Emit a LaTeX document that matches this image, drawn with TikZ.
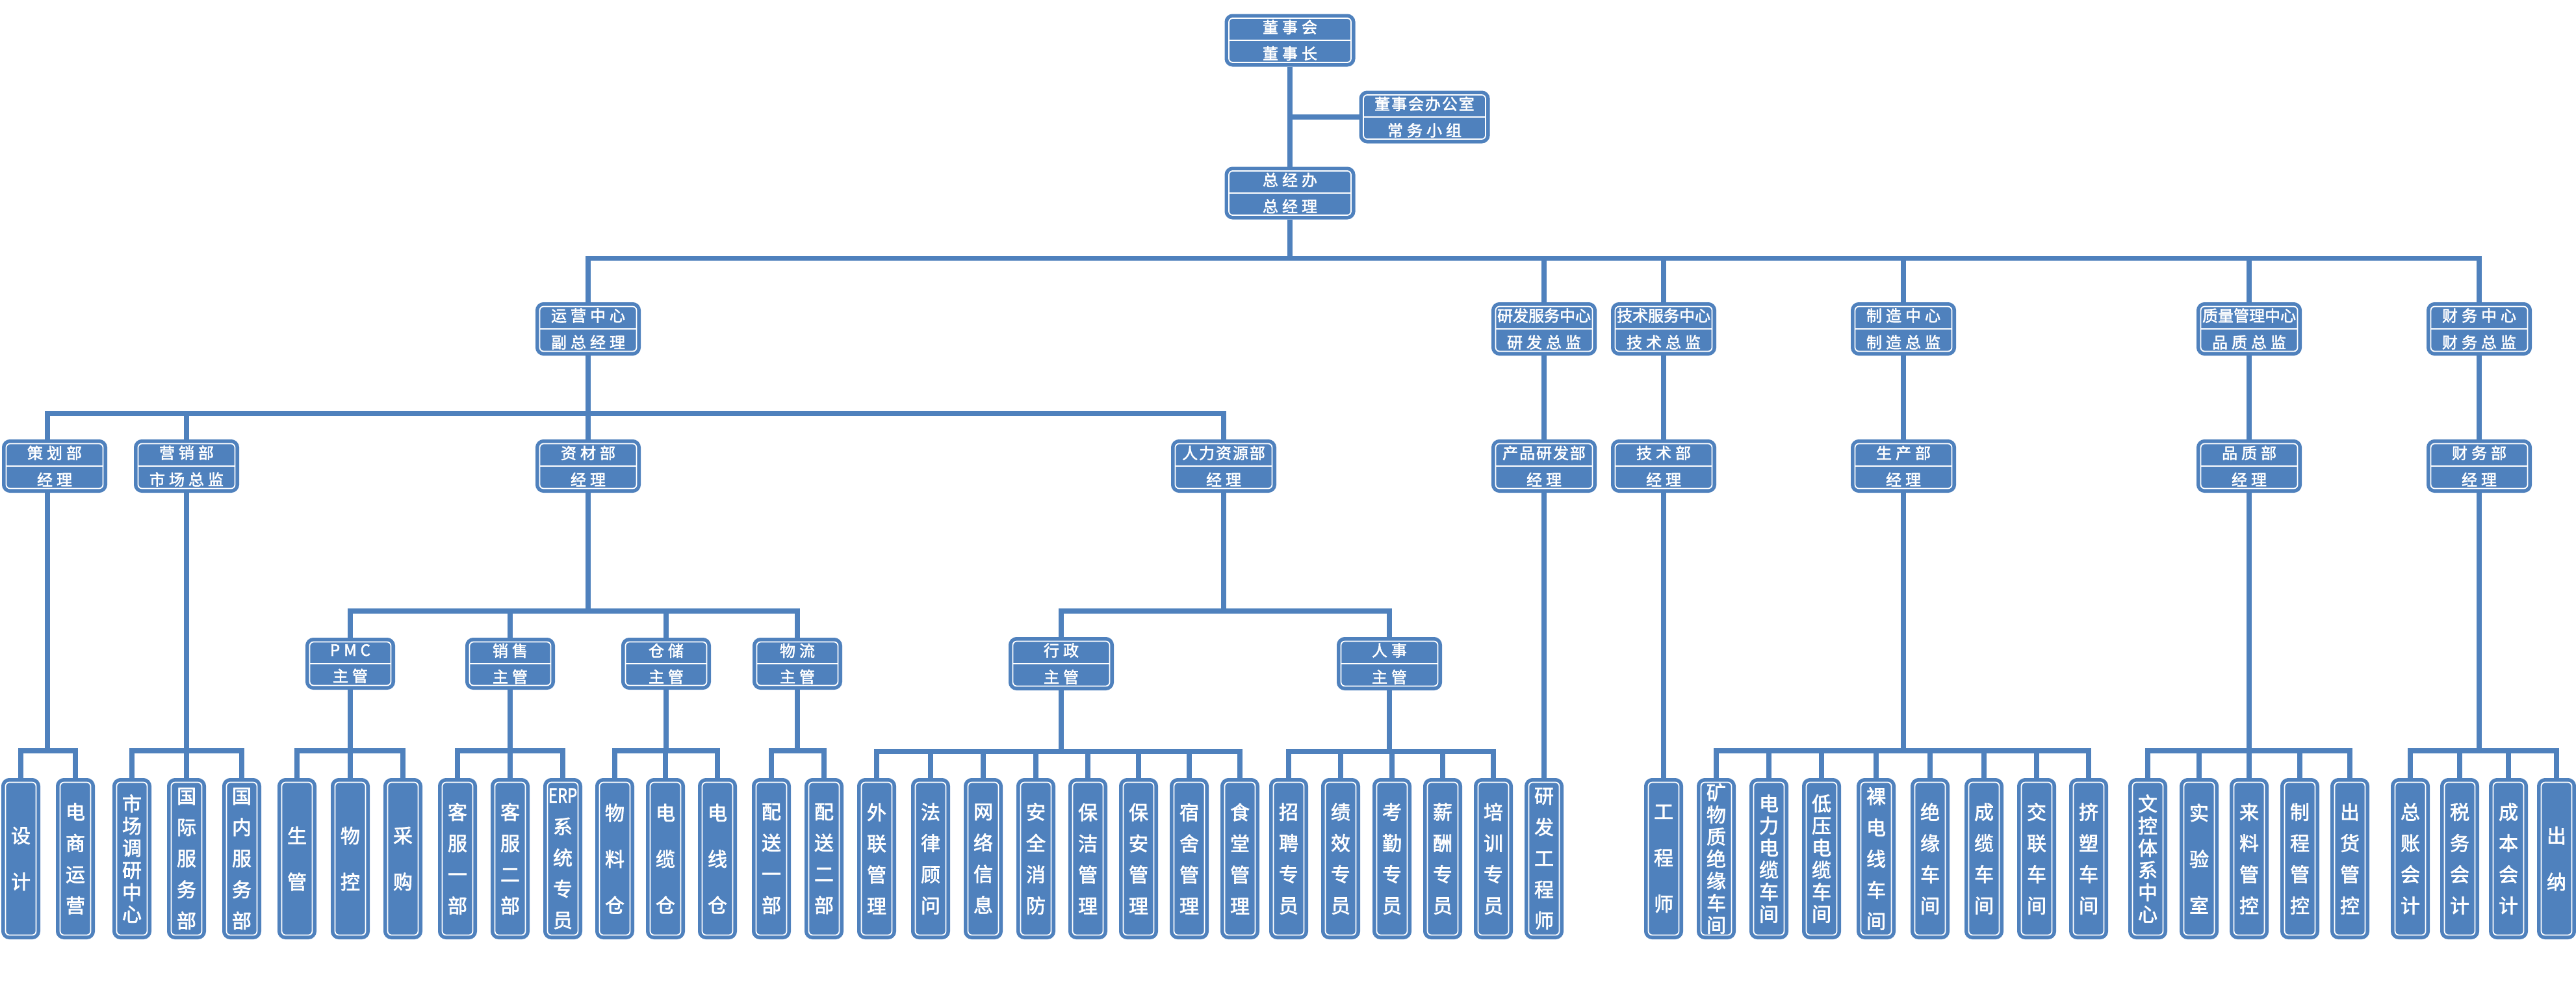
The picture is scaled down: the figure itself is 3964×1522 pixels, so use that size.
\documentclass[tikz,border=0pt]{standalone}
\usepackage{fontspec}
\setmainfont{Noto Sans CJK SC}[FakeBold=2.2]
\newfontfamily\hdfont{Noto Sans CJK SC}[LetterSpace=25, FakeBold=2.2]
\newfontfamily\hdsnug{Noto Sans CJK SC}[LetterSpace=8, FakeBold=2.2]
\newfontfamily\hdtight{Noto Sans CJK SC}[FakeBold=2.2]
\definecolor{orgblue}{RGB}{79,129,189}

\tikzset{
  unit/.style={rectangle, rounded corners=3pt, fill=orgblue, draw=orgblue,
    line width=2.8pt, double=white, double distance=0.9pt,
    outer sep=3.25pt, inner sep=0pt, text=white, align=center},
  head/.style={unit, minimum width=94pt, minimum height=34pt,
    font=\hdfont\fontsize{12pt}{20.25pt}\selectfont},
  mid/.style={unit, minimum width=74.5pt, minimum height=34.5pt,
    font=\hdfont\fontsize{12pt}{20.5pt}\selectfont},
  sub/.style={unit, minimum width=62.5pt, minimum height=33.5pt,
    font=\hdfont\fontsize{12pt}{20pt}\selectfont},
  leaf/.style={unit, minimum width=23.5pt, minimum height=117.5pt},
  pitchA/.style={leaf, font=\fontsize{15pt}{35.5pt}\selectfont},
  pitchB/.style={leaf, font=\fontsize{15pt}{24pt}\selectfont},
  pitchC/.style={leaf, font=\fontsize{15pt}{17pt}\selectfont},
  link/.style={draw=orgblue, line width=3.8pt},
  divider/.style={draw=white, line width=0.9pt}
}

\begin{document}
\begin{tikzpicture}[x=0.5pt, y=-0.5pt]
  \useasboundingbox (0,0) rectangle (3964,1522);

  % board and general manager
  \node[head] (dongshihui)  at (1985,62)  {董事会\\董事长};
  \node[head] (banshi)      at (2192,180) {{\hdsnug 董事会办公室}\\常务小组};
  \node[head] (zongjingban) at (1985,297) {总经办\\总经理};

  % centres
  \node[mid] (yunying)  at (905,506)  {运营中心\\副总经理};
  \node[mid] (yanfa)    at (2376,506) {{\hdtight 研发服务中心}\\研发总监};
  \node[mid] (jishu)    at (2560,506) {{\hdtight 技术服务中心}\\技术总监};
  \node[mid] (zhizao)   at (2929,506) {制造中心\\制造总监};
  \node[mid] (zhiliang) at (3461,506) {{\hdtight 质量管理中心}\\品质总监};
  \node[mid] (caiwu)    at (3815,506) {财务中心\\财务总监};

  % departments
  \node[mid] (cehua)     at (84,717)   {策划部\\经理};
  \node[mid] (yingxiao)  at (287,717)  {营销部\\市场总监};
  \node[mid] (zicai)     at (905,717)  {资材部\\经理};
  \node[mid] (renli)     at (1883,717) {{\hdsnug 人力资源部}\\经理};
  \node[mid] (chanpin)   at (2376,717) {{\hdsnug 产品研发部}\\经理};
  \node[mid] (jishubu)   at (2560,717) {技术部\\经理};
  \node[mid] (shengchan) at (2929,717) {生产部\\经理};
  \node[mid] (pinzhi)    at (3461,717) {品质部\\经理};
  \node[mid] (caiwubu)   at (3815,717) {财务部\\经理};

  % supervisors
  \node[sub] (pmc)       at (539,1021)  {PMC\\主管};
  \node[sub] (xiaoshou)  at (785,1021)  {销售\\主管};
  \node[sub] (cangchu)   at (1025,1021) {仓储\\主管};
  \node[sub] (wuliu)     at (1227,1021) {物流\\主管};
  \node[mid] (xingzheng) at (1633,1021) {行政\\主管};
  \node[mid] (renshi)    at (2138,1021) {人事\\主管};

  % posts
  \node[pitchA] (sheji)      at (32,1321)   {设\\计};
  \node[pitchB] (dianshang)  at (116,1321)  {电\\商\\运\\营};
  \node[pitchC] (shichang)   at (203,1321)  {市\\场\\调\\研\\中\\心};
  \node[pitchB] (guoji)      at (287,1321)  {国\\际\\服\\务\\部};
  \node[pitchB] (guonei)     at (372,1321)  {国\\内\\服\\务\\部};
  \node[pitchA] (shengguan)  at (457,1321)  {生\\管};
  \node[pitchA] (wukong)     at (539,1321)  {物\\控};
  \node[pitchA] (caigou)     at (620,1321)  {采\\购};
  \node[pitchB] (kefuyi)     at (704,1321)  {客\\服\\一\\部};
  \node[pitchB] (kefuer)     at (785,1321)  {客\\服\\二\\部};
  \node[pitchB] (erp)        at (866,1321)  {\scalebox{0.8}[1]{ERP}\\系\\统\\专\\员};
  \node[pitchA] (wuliaocang) at (946,1321)  {物\\料\\仓};
  \node[pitchA] (dianlan)    at (1024,1321) {电\\缆\\仓};
  \node[pitchA] (dianxian)   at (1104,1321) {电\\线\\仓};
  \node[pitchB] (peisongyi)  at (1187,1321) {配\\送\\一\\部};
  \node[pitchB] (peisonger)  at (1268,1321) {配\\送\\二\\部};
  \node[pitchB] (wailian)    at (1349,1321) {外\\联\\管\\理};
  \node[pitchB] (falv)       at (1432,1321) {法\\律\\顾\\问};
  \node[pitchB] (wangluo)    at (1513,1321) {网\\络\\信\\息};
  \node[pitchB] (anquan)     at (1594,1321) {安\\全\\消\\防};
  \node[pitchB] (baojie)     at (1674,1321) {保\\洁\\管\\理};
  \node[pitchB] (baoan)      at (1752,1321) {保\\安\\管\\理};
  \node[pitchB] (sushe)      at (1830,1321) {宿\\舍\\管\\理};
  \node[pitchB] (shitang)    at (1908,1321) {食\\堂\\管\\理};
  \node[pitchB] (zhaopin)    at (1983,1321) {招\\聘\\专\\员};
  \node[pitchB] (jixiao)     at (2063,1321) {绩\\效\\专\\员};
  \node[pitchB] (kaoqin)     at (2142,1321) {考\\勤\\专\\员};
  \node[pitchB] (xinchou)    at (2220,1321) {薪\\酬\\专\\员};
  \node[pitchB] (peixun)     at (2298,1321) {培\\训\\专\\员};
  \node[pitchB] (yfgcs)      at (2376,1321) {研\\发\\工\\程\\师};
  \node[pitchA] (gcs)        at (2560,1321) {工\\程\\师};
  \node[pitchC] (kuangwu)    at (2641,1321) {矿\\物\\质\\绝\\缘\\车\\间};
  \node[pitchC] (dianli)     at (2722,1321) {电\\力\\电\\缆\\车\\间};
  \node[pitchC] (diya)       at (2803,1321) {低\\压\\电\\缆\\车\\间};
  \node[pitchB] (luodian)    at (2887,1321) {裸\\电\\线\\车\\间};
  \node[pitchB] (jueyuan)    at (2970,1321) {绝\\缘\\车\\间};
  \node[pitchB] (chenglan)   at (3053,1321) {成\\缆\\车\\间};
  \node[pitchB] (jiaolian)   at (3134,1321) {交\\联\\车\\间};
  \node[pitchB] (jisu)       at (3214,1321) {挤\\塑\\车\\间};
  \node[pitchC] (wenkong)    at (3305,1321) {文\\控\\体\\系\\中\\心};
  \node[pitchA] (shiyan)     at (3384,1321) {实\\验\\室};
  \node[pitchB] (lailiao)    at (3461,1321) {来\\料\\管\\控};
  \node[pitchB] (zhicheng)   at (3539,1321) {制\\程\\管\\控};
  \node[pitchB] (chuhuo)     at (3616,1321) {出\\货\\管\\控};
  \node[pitchB] (zongzhang)  at (3709,1321) {总\\账\\会\\计};
  \node[pitchB] (shuiwu)     at (3785,1321) {税\\务\\会\\计};
  \node[pitchB] (chengben)   at (3860,1321) {成\\本\\会\\计};
  \node[pitchA] (chuna)      at (3934,1321) {出\\纳};

  % dividers of the two-line boxes
  \draw[divider] ([xshift=3.25pt]dongshihui.west) -- ([xshift=-3.25pt]dongshihui.east);
  \draw[divider] ([xshift=3.25pt]banshi.west) -- ([xshift=-3.25pt]banshi.east);
  \draw[divider] ([xshift=3.25pt]zongjingban.west) -- ([xshift=-3.25pt]zongjingban.east);
  \draw[divider] ([xshift=3.25pt]yunying.west) -- ([xshift=-3.25pt]yunying.east);
  \draw[divider] ([xshift=3.25pt]yanfa.west) -- ([xshift=-3.25pt]yanfa.east);
  \draw[divider] ([xshift=3.25pt]jishu.west) -- ([xshift=-3.25pt]jishu.east);
  \draw[divider] ([xshift=3.25pt]zhizao.west) -- ([xshift=-3.25pt]zhizao.east);
  \draw[divider] ([xshift=3.25pt]zhiliang.west) -- ([xshift=-3.25pt]zhiliang.east);
  \draw[divider] ([xshift=3.25pt]caiwu.west) -- ([xshift=-3.25pt]caiwu.east);
  \draw[divider] ([xshift=3.25pt]cehua.west) -- ([xshift=-3.25pt]cehua.east);
  \draw[divider] ([xshift=3.25pt]yingxiao.west) -- ([xshift=-3.25pt]yingxiao.east);
  \draw[divider] ([xshift=3.25pt]zicai.west) -- ([xshift=-3.25pt]zicai.east);
  \draw[divider] ([xshift=3.25pt]renli.west) -- ([xshift=-3.25pt]renli.east);
  \draw[divider] ([xshift=3.25pt]chanpin.west) -- ([xshift=-3.25pt]chanpin.east);
  \draw[divider] ([xshift=3.25pt]jishubu.west) -- ([xshift=-3.25pt]jishubu.east);
  \draw[divider] ([xshift=3.25pt]shengchan.west) -- ([xshift=-3.25pt]shengchan.east);
  \draw[divider] ([xshift=3.25pt]pinzhi.west) -- ([xshift=-3.25pt]pinzhi.east);
  \draw[divider] ([xshift=3.25pt]caiwubu.west) -- ([xshift=-3.25pt]caiwubu.east);
  \draw[divider] ([xshift=3.25pt]pmc.west) -- ([xshift=-3.25pt]pmc.east);
  \draw[divider] ([xshift=3.25pt]xiaoshou.west) -- ([xshift=-3.25pt]xiaoshou.east);
  \draw[divider] ([xshift=3.25pt]cangchu.west) -- ([xshift=-3.25pt]cangchu.east);
  \draw[divider] ([xshift=3.25pt]wuliu.west) -- ([xshift=-3.25pt]wuliu.east);
  \draw[divider] ([xshift=3.25pt]xingzheng.west) -- ([xshift=-3.25pt]xingzheng.east);
  \draw[divider] ([xshift=3.25pt]renshi.west) -- ([xshift=-3.25pt]renshi.east);

  % top
  \draw[link] (dongshihui.south) -- (zongjingban.north);
  \draw[link] (banshi.west) -- (banshi.west -| dongshihui.south);

  % general manager to centres
  \draw[link] (zongjingban.south) -- ++(0,60) -| (yunying.north)
              (zongjingban.south) -- ++(0,60) -| (yanfa.north)
              (zongjingban.south) -- ++(0,60) -| (jishu.north)
              (zongjingban.south) -- ++(0,60) -| (zhizao.north)
              (zongjingban.south) -- ++(0,60) -| (zhiliang.north)
              (zongjingban.south) -- ++(0,60) -| (caiwu.north);

  % centres to departments
  \draw[link] (yunying.south) -- ++(0,89) -| ([xshift=-5.5pt]cehua.north)
              (yunying.south) -- ++(0,89) -| (yingxiao.north)
              (yunying.south) -- ++(0,89) -| (zicai.north)
              (yunying.south) -- ++(0,89) -| (renli.north);
  \draw[link] (yanfa.south) -- (chanpin.north);
  \draw[link] (jishu.south) -- (jishubu.north);
  \draw[link] (zhizao.south) -- (shengchan.north);
  \draw[link] (zhiliang.south) -- (pinzhi.north);
  \draw[link] (caiwu.south) -- (caiwubu.north);

  % departments to supervisors
  \draw[link] (zicai.south) -- ++(0,182) -| (pmc.north)
              (zicai.south) -- ++(0,182) -| (xiaoshou.north)
              (zicai.south) -- ++(0,182) -| (cangchu.north)
              (zicai.south) -- ++(0,182) -| (wuliu.north);
  \draw[link] (renli.south) -- ++(0,182) -| (xingzheng.north)
              (renli.south) -- ++(0,182) -| (renshi.north);

  % posts
  \draw[link] ([xshift=-5.5pt]cehua.south) -- ++(0,397) -| (sheji.north)
              ([xshift=-5.5pt]cehua.south) -- ++(0,397) -| (dianshang.north);
  \draw[link] (yingxiao.south) -- ++(0,397) -| (shichang.north)
              (yingxiao.south) -- ++(0,397) -| (guoji.north)
              (yingxiao.south) -- ++(0,397) -| (guonei.north);
  \draw[link] (pmc.south) -- ++(0,94) -| (shengguan.north)
              (pmc.south) -- ++(0,94) -| (wukong.north)
              (pmc.south) -- ++(0,94) -| (caigou.north);
  \draw[link] (xiaoshou.south) -- ++(0,94) -| (kefuyi.north)
              (xiaoshou.south) -- ++(0,94) -| (kefuer.north)
              (xiaoshou.south) -- ++(0,94) -| (erp.north);
  \draw[link] (cangchu.south) -- ++(0,94) -| (wuliaocang.north)
              (cangchu.south) -- ++(0,94) -| (dianlan.north)
              (cangchu.south) -- ++(0,94) -| (dianxian.north);
  \draw[link] (wuliu.south) -- ++(0,94) -| (peisongyi.north)
              (wuliu.south) -- ++(0,94) -| (peisonger.north);
  \draw[link] (xingzheng.south) -- ++(0,94) -| (wailian.north)
              (xingzheng.south) -- ++(0,94) -| (falv.north)
              (xingzheng.south) -- ++(0,94) -| (wangluo.north)
              (xingzheng.south) -- ++(0,94) -| (anquan.north)
              (xingzheng.south) -- ++(0,94) -| (baojie.north)
              (xingzheng.south) -- ++(0,94) -| (baoan.north)
              (xingzheng.south) -- ++(0,94) -| (sushe.north)
              (xingzheng.south) -- ++(0,94) -| (shitang.north);
  \draw[link] (renshi.south) -- ++(0,94) -| (zhaopin.north)
              (renshi.south) -- ++(0,94) -| (jixiao.north)
              (renshi.south) -- ++(0,94) -| (kaoqin.north)
              (renshi.south) -- ++(0,94) -| (xinchou.north)
              (renshi.south) -- ++(0,94) -| (peixun.north);
  \draw[link] (chanpin.south) -- (yfgcs.north);
  \draw[link] (jishubu.south) -- (gcs.north);
  \draw[link] (shengchan.south) -- ++(0,397) -| (kuangwu.north)
              (shengchan.south) -- ++(0,397) -| (dianli.north)
              (shengchan.south) -- ++(0,397) -| (diya.north)
              (shengchan.south) -- ++(0,397) -| (luodian.north)
              (shengchan.south) -- ++(0,397) -| (jueyuan.north)
              (shengchan.south) -- ++(0,397) -| (chenglan.north)
              (shengchan.south) -- ++(0,397) -| (jiaolian.north)
              (shengchan.south) -- ++(0,397) -| (jisu.north);
  \draw[link] (pinzhi.south) -- ++(0,397) -| (wenkong.north)
              (pinzhi.south) -- ++(0,397) -| (shiyan.north)
              (pinzhi.south) -- ++(0,397) -| (lailiao.north)
              (pinzhi.south) -- ++(0,397) -| (zhicheng.north)
              (pinzhi.south) -- ++(0,397) -| (chuhuo.north);
  \draw[link] (caiwubu.south) -- ++(0,397) -| (zongzhang.north)
              (caiwubu.south) -- ++(0,397) -| (shuiwu.north)
              (caiwubu.south) -- ++(0,397) -| (chengben.north)
              (caiwubu.south) -- ++(0,397) -| (chuna.north);
\end{tikzpicture}
\end{document}
